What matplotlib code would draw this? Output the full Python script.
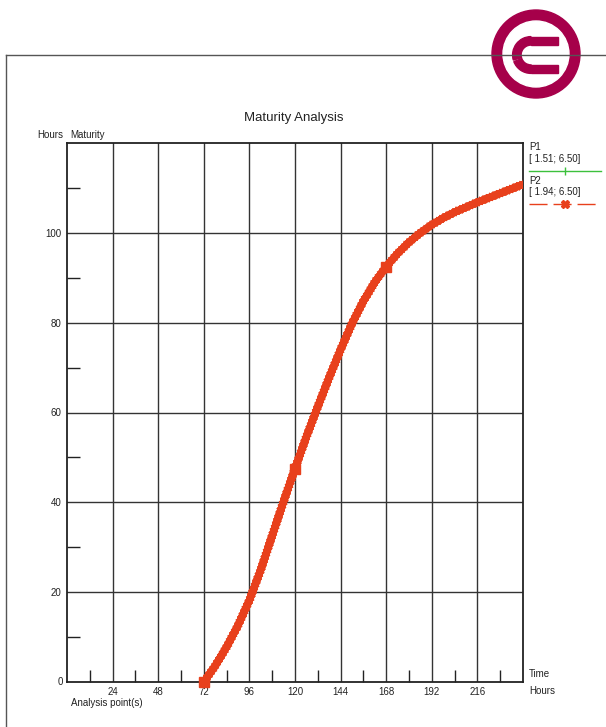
import matplotlib
matplotlib.use("Agg")
import matplotlib.pyplot as plt
import matplotlib.patheffects as pe
from matplotlib.patches import Circle, Wedge, Rectangle
from matplotlib.lines import Line2D

plt.rcParams['font.family'] = ['Liberation Sans', 'DejaVu Sans']

# ---- data ----
hours = [72, 78, 84, 90, 96, 102, 108, 114, 120, 126, 132, 138, 144, 150, 156,
         162, 168, 174, 180, 186, 192, 198, 204, 210, 216, 222, 228, 234, 240]
maturity = [0, 3.6, 7.8, 12.6, 18.2, 25, 32.6, 40.2, 47.5, 54.6, 61.3, 67.8, 74, 79.8, 84.8,
            89.0, 92.5, 95.4, 97.9, 100.0, 101.8, 103.3, 104.6, 105.7, 106.8, 107.8,
            108.8, 109.8, 110.8]
analysis_hours = [72, 120, 168]
analysis_vals = [0, 47.5, 92.5]
x_ticks = [24, 48, 72, 96, 120, 144, 168, 192, 216]
y_ticks = [0, 20, 40, 60, 80, 100]
legend_labels = ["P1", "[ 1.51; 6.50]", "P2", "[ 1.94; 6.50]"]

W, H = 606, 727
fig = plt.figure(figsize=(W / 100, H / 100), dpi=100)

def fx(px):
    return px / W

def fy(py):
    return 1 - py / H

txt = '#222222'

# frame lines
fig.add_artist(Line2D([fx(6), fx(6)], [fy(55), 0], color='#555555', lw=1))
fig.add_artist(Line2D([fx(6), 1], [fy(55), fy(55)], color='#555555', lw=1))

# axes
ax_l, ax_r, ax_t, ax_b = 67, 523, 143, 682
ax = fig.add_axes([fx(ax_l), fy(ax_b), (ax_r - ax_l) / W, (ax_b - ax_t) / H])
ax.set_xlim(0, 240)
ax.set_ylim(0, 120)
for s in ax.spines.values():
    s.set_color('#222222')
    s.set_linewidth(1.3)

for xv in x_ticks:
    ax.axvline(xv, color='#333333', lw=1, zorder=1)
for yv in y_ticks[1:]:
    ax.axhline(yv, color='#333333', lw=1, zorder=1)

ax.set_xticks(x_ticks)
ax.set_xticklabels([str(v) for v in x_ticks])
ax.set_yticks(y_ticks[1:])
ax.set_yticklabels([str(v) for v in y_ticks[1:]])
ax.tick_params(axis='both', which='major', length=0, labelsize=7, colors=txt)
ax.tick_params(axis='y', pad=4)
ax.tick_params(axis='x', pad=3.5)
ax.set_xticks([12 + 24 * i for i in range(10)], minor=True)
ax.set_yticks([10 + 20 * i for i in range(6)], minor=True)
ax.tick_params(axis='both', which='minor', direction='in', length=9, width=1, color='#222222')

# curve
line_color = '#E8401C'
ticks_fx = [pe.withTickedStroke(angle=a, spacing=2.6, length=1.6, linewidth=1.0)
            for a in (45, 135, -45, -135)]
ax.plot(hours, maturity, color=line_color, lw=5.2, zorder=3, solid_capstyle='butt',
        solid_joinstyle='round', path_effects=ticks_fx + [pe.Normal()])
ax.plot(analysis_hours, analysis_vals, linestyle='none', marker='s', ms=6.5,
        color=line_color, zorder=4, clip_on=False)

# texts
fs = 7
fig.text(fx(63), fy(682), str(y_ticks[0]), ha='right', va='center', fontsize=fs, color=txt)
fig.text(fx(63), fy(135), "Hours", ha='right', va='center', fontsize=fs, color=txt)
fig.text(fx(70), fy(135), "Maturity", ha='left', va='center', fontsize=fs, color=txt)
fig.text(fx(71), fy(703), "Analysis point(s)", ha='left', va='center', fontsize=fs, color=txt)
fig.text(fx(529), fy(674), "Time", ha='left', va='center', fontsize=fs, color=txt)
fig.text(fx(529), fy(691), "Hours", ha='left', va='center', fontsize=fs, color=txt)
fig.text(fx(294), fy(118), "Maturity Analysis", ha='center', va='center', fontsize=9.5, color=txt)

# legend
fig.text(fx(529), fy(147), legend_labels[0], ha='left', va='center', fontsize=fs, color=txt)
fig.text(fx(529), fy(159), legend_labels[1], ha='left', va='center', fontsize=fs, color=txt)
fig.add_artist(Line2D([fx(529), fx(601)], [fy(171), fy(171)], color='#3CC03C', lw=1))
fig.add_artist(Line2D([fx(565)], [fy(171)], color='#3CC03C', marker='|', ms=6, lw=0))
fig.text(fx(529), fy(181), legend_labels[2], ha='left', va='center', fontsize=fs, color=txt)
fig.text(fx(529), fy(192), legend_labels[3], ha='left', va='center', fontsize=fs, color=txt)
fig.add_artist(Line2D([fx(529), fx(601)], [fy(204), fy(204)], color=line_color, lw=1,
                      linestyle=(0, (13, 4.3))))
fig.add_artist(Line2D([fx(565)], [fy(204)], color=line_color, marker='X', ms=6, lw=0))

# logo
logo_color = '#A6004A'
lax = fig.add_axes([fx(486), fy(104), 100 / W, 100 / H])
lax.set_xlim(-50, 50)
lax.set_ylim(-50, 50)
lax.set_aspect('equal')
lax.axis('off')
lax.add_patch(Circle((0, 0), 44, color=logo_color))
lax.add_patch(Circle((0, 0), 33, color='white'))
cx, cy, r_out, wdt = -5, -1, 18.4, 8.5
lax.add_patch(Wedge((cx, cy), r_out, 90, 196, width=wdt, color=logo_color))
lax.add_patch(Wedge((cx, cy), r_out, 201, 270, width=wdt, color=logo_color))
lax.add_patch(Rectangle((cx, cy + r_out - wdt), 27, wdt, color=logo_color))
lax.add_patch(Rectangle((cx, cy - r_out), 27, wdt, color=logo_color))

fig.savefig("out.png", dpi=100)
